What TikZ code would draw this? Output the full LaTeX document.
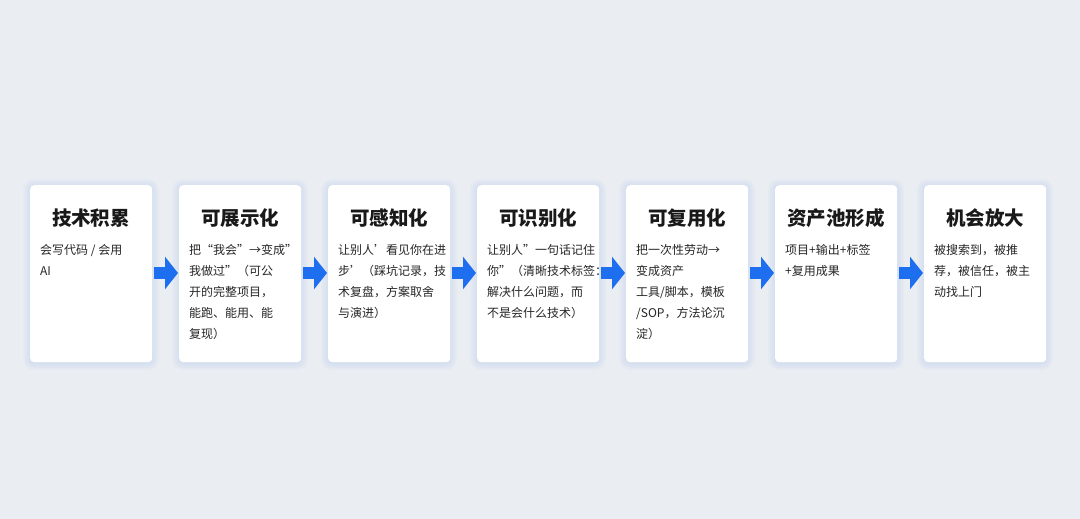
\documentclass[tikz,border=0pt]{standalone}
\usepackage{fontspec}
\setmainfont{Noto Sans CJK SC}
\usetikzlibrary{arrows.meta}
\definecolor{bg}{RGB}{234,238,243}
\definecolor{flowblue}{RGB}{30,110,240}
\definecolor{glow}{RGB}{150,180,230}
\begin{document}
\begin{tikzpicture}[x=1pt,y=-1pt,
  card/.style={fill=white,rounded corners=4pt,minimum width=122pt,minimum height=177pt,anchor=north west,inner sep=0pt},
  ttl/.style={font=\fontsize{19.5}{22}\selectfont\bfseries,text=black!90,anchor=center},
  body/.style={font=\fontsize{12}{21}\selectfont,text=black!85,anchor=north west,align=left,inner sep=0pt},
  flow/.style={line width=12pt,draw=flowblue,-{Triangle[length=13pt,width=32pt]},shorten <=2pt,shorten >=1pt}]
\fill[bg] (0,0) rectangle (1080,519);
\useasboundingbox (0,0) rectangle (1080,519);
\foreach \i/\t/\b in {
 0/技术积累/{会写代码 / 会用\\AI},
 1/可展示化/{把“我会”→变成”\\我做过”（可公\\开的完整项目，\\能跑、能用、能\\复现）},
 2/可感知化/{让别人’看见你在进\\步’（踩坑记录，技\\术复盘，方案取舍\\与演进）},
 3/可识别化/{让别人”一句话记住\\你”（清晰技术标签：\\解决什么问题，而\\不是会什么技术）},
 4/可复用化/{把一次性劳动→\\变成资产\\工具/脚本，模板\\/SOP，方法论沉\\淀）},
 5/资产池形成/{项目+输出+标签\\+复用成果},
 6/机会放大/{被搜索到，被推\\荐，被信任，被主\\动找上门}}{
  \foreach \g in {7,5,3,1.5}{
    \fill[glow,opacity=0.06,rounded corners=4pt+\g pt] (30+149*\i-\g,185-\g+1) rectangle (152+149*\i+\g,362+\g+1);
  }
  \node[card] (c\i) at (30+149*\i,185) {};
  \node[ttl] (t\i) at (91+149*\i,218) {\t};
  \node[body] (b\i) at (40+149*\i,244) {\b};
  \coordinate (r\i) at (152+149*\i,273);
  \coordinate (l\i) at (30+149*\i,273);
}
\foreach \i [evaluate=\i as \j using int(\i+1)] in {0,...,5}{
  \draw[flow] (r\i) -- (l\j);
}
\end{tikzpicture}
\end{document}
